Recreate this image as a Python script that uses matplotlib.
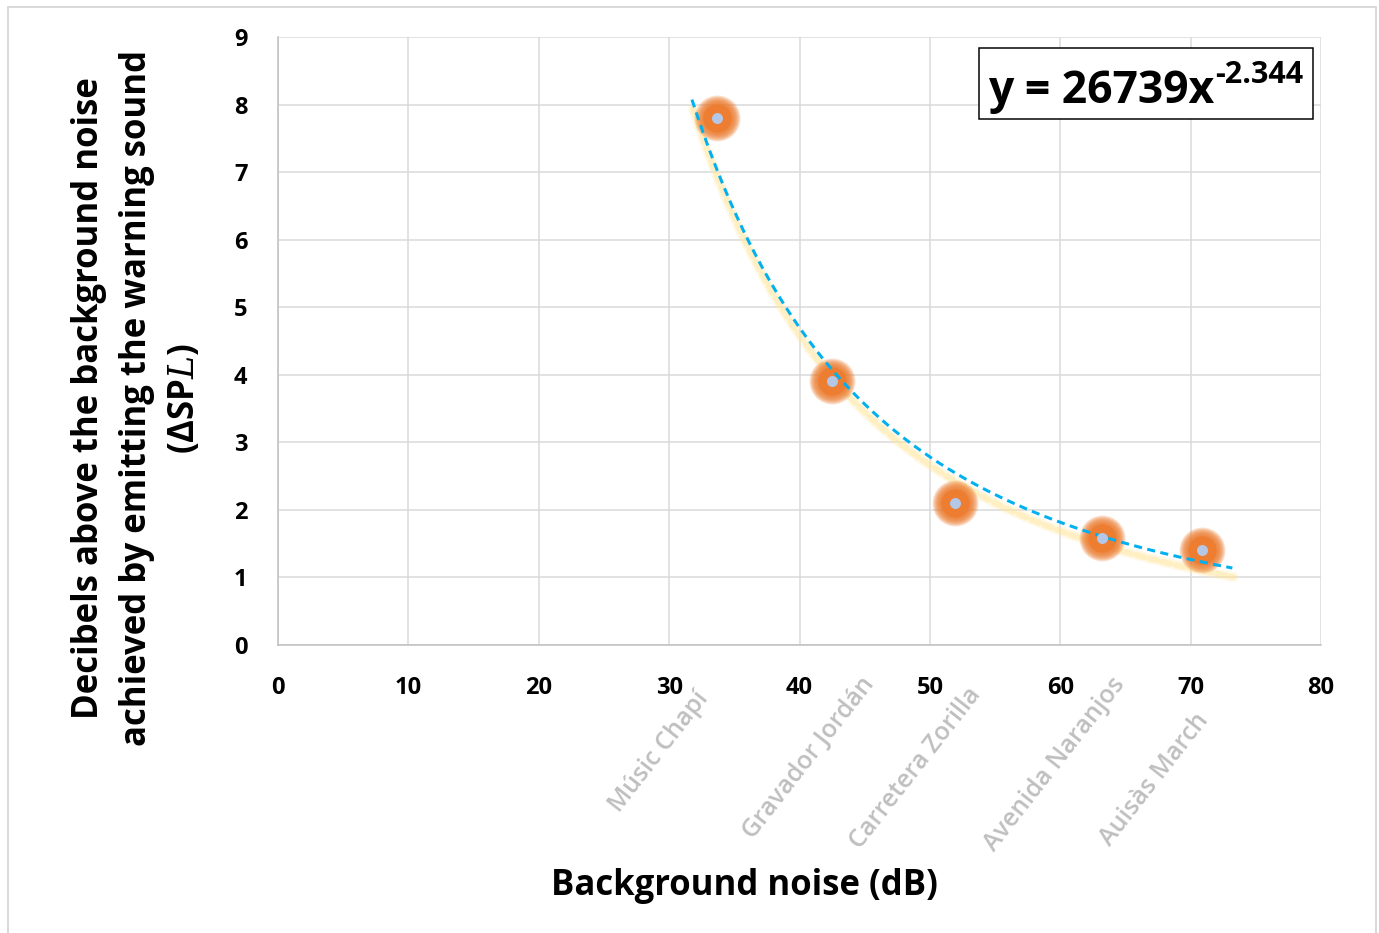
import numpy as np
import matplotlib
matplotlib.use("Agg")
import matplotlib.pyplot as plt
import matplotlib.transforms as mtransforms
from matplotlib.patches import Rectangle

# ---- data ----
locations = ["Músic Chapí", "Gravador Jordán", "Carretera Zorilla", "Avenida Naranjos", "Auisàs March"]
background_noise = [33.7, 42.5, 51.9, 63.2, 70.9]
delta_spl = [7.80, 3.91, 2.10, 1.58, 1.41]
fit_coef = 26739
fit_exp = -2.344
fit_range = (31.75, 73.2)
x_ticks = [0, 10, 20, 30, 40, 50, 60, 70, 80]
y_ticks = [0, 1, 2, 3, 4, 5, 6, 7, 8, 9]

# ---- style ----
plt.rcParams['font.family'] = ['Open Sans', 'DejaVu Sans']
plt.rcParams['mathtext.fontset'] = 'custom'
plt.rcParams['mathtext.it'] = 'DejaVu Serif:italic'
plt.rcParams['mathtext.rm'] = 'Open Sans:bold'
plt.rcParams['mathtext.bf'] = 'Open Sans:bold'

DPI = 100
fig = plt.figure(figsize=(13.79, 9.33), dpi=DPI)
fig.patch.set_facecolor('white')
px = 72.0 / DPI  # points per pixel

ax = fig.add_axes([278/1379, 1-645/933, (1321-278)/1379, (645-37)/933])
ax.set_xlim(0, 80)
ax.set_ylim(0, 9)
ax.set_xticks(x_ticks)
ax.set_yticks(y_ticks)
ax.grid(True, color='#D9D9D9', linewidth=1.5*px, zorder=0)
ax.set_axisbelow(True)
for s in ['top', 'right']:
    ax.spines[s].set_visible(False)
for s in ['left', 'bottom']:
    ax.spines[s].set_color('#BFBFBF')
    ax.spines[s].set_linewidth(1.5*px)
ax.tick_params(length=0, labelsize=17, pad=22)
for lab in ax.get_xticklabels() + ax.get_yticklabels():
    lab.set_fontweight('bold')

# trendline (power fit shown in chart)
xf = np.linspace(fit_range[0], fit_range[1], 300)
yf = fit_coef * xf ** fit_exp
shadow = mtransforms.offset_copy(ax.transData, fig=fig, x=1*px, y=-9*px, units='points')
ax.plot(xf, yf, color='#FFE699', lw=10*px, alpha=0.25, dashes=(0.9, 0.5),
        dash_capstyle='round', transform=shadow, zorder=2)
ax.plot(xf, yf, color='#FFE699', lw=6*px, alpha=0.45, dashes=(1.4, 0.9),
        dash_capstyle='round', transform=shadow, zorder=2)

# glowing markers
radii = np.linspace(23, 13, 12)
for r in radii:
    ax.scatter(background_noise, delta_spl, s=(2*r*px)**2, color='#ED7D31',
               alpha=0.2, linewidths=0, zorder=3)
ax.scatter(background_noise, delta_spl, s=(2*14*px)**2, color='#ED7D31',
           alpha=0.95, linewidths=0, zorder=3)
ax.scatter(background_noise, delta_spl, s=(2*5.5*px)**2, color='#B4C7E7',
           linewidths=0, zorder=5)

ax.plot(xf, yf, color='#00B0F0', lw=3*px, dashes=(2.7, 1.8), zorder=4)

# location labels (rotated, grey)
label_dx = [-4, 48, 32, 28, 11]     # pixel shift of label's right edge from point
label_top = [687, 672, 683, 673, 708]  # pixel y of label top
for name, xv, dx, yt in zip(locations, background_noise, label_dx, label_top):
    tr = mtransforms.blended_transform_factory(
        ax.transData + mtransforms.ScaledTranslation(dx/DPI, 0, fig.dpi_scale_trans),
        fig.transFigure)
    ax.text(xv, 1 - yt/933, name, transform=tr, rotation=52, ha='right', va='top',
            fontsize=18, fontweight='semibold', color='#BFBFBF', clip_on=False)

# equation box
ax.add_patch(Rectangle((979/1379, 1-119/933), (1313-979)/1379, (119-48)/933,
                       transform=fig.transFigure, facecolor='white', edgecolor='black',
                       linewidth=1.5*px, zorder=6, clip_on=False))
fig.text(988/1379, 1-103/933, "y = 26739x", fontsize=32, fontweight='bold',
         ha='left', va='baseline', zorder=7)
fig.text(1215/1379, 1-83/933, "-2.344", fontsize=22, fontweight='bold',
         ha='left', va='baseline', zorder=7)

# axis titles
fig.text(744/1379, 1-886/933, "Background noise (dB)", fontsize=25, fontweight='bold',
         ha='center', va='center')
fig.text(137/1379, 1-398/933,
         "Decibels above the background noise\nachieved by emitting the warning sound\n(ΔSP$L$)",
         fontsize=25, fontweight='bold', rotation=90, ha='center', va='center',
         multialignment='center', linespacing=1.45)

# chart border
fig.patches.append(Rectangle((8/1379, -0.01), (1376-8)/1379, 1.01-7/933,
                             transform=fig.transFigure, facecolor='none',
                             edgecolor='#D9D9D9', linewidth=2*px))

fig.savefig("out.png", dpi=DPI, facecolor='white')
